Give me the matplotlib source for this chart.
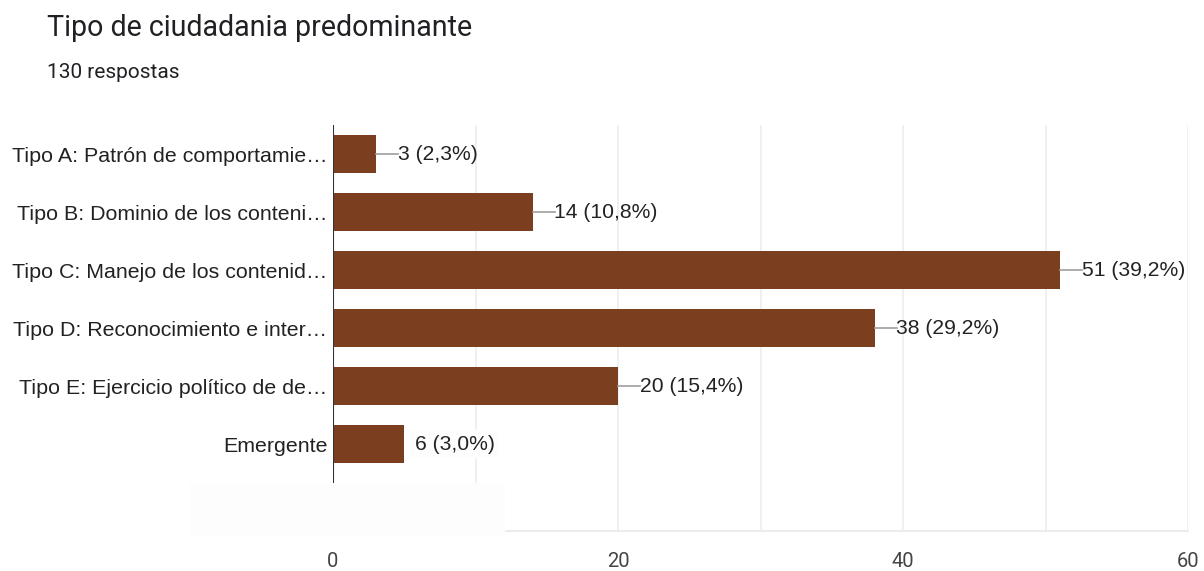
import matplotlib
matplotlib.use("Agg")
import matplotlib.pyplot as plt
from matplotlib.patches import Rectangle

title = "Tipo de ciudadania predominante"
subtitle = "130 respostas"
categories = [
    "Tipo A: Patrón de comportamie…",
    "Tipo B: Dominio de los conteni…",
    "Tipo C: Manejo de los contenid…",
    "Tipo D: Reconocimiento e inter…",
    "Tipo E: Ejercicio político de de…",
    "Emergente",
]
bar_values = [3, 14, 51, 38, 20, 5]      # bar lengths as drawn
label_counts = [3, 14, 51, 38, 20, 6]    # counts as printed
percents = [2.3, 10.8, 39.2, 29.2, 15.4, 3.0]
connector = [True, True, True, True, True, False]
xticks = [0, 20, 40, 60]
minor_xticks = [10, 30, 50]

W, H = 1204, 571
fig = plt.figure(figsize=(W / 100, H / 100), dpi=100)
fig.patch.set_facecolor("white")

left, right, top, bottom = 333, 1188, 125, 531
ax = fig.add_axes([left / W, 1 - bottom / H, (right - left) / W, (bottom - top) / H])
ax.set_facecolor("white")

ypos = list(range(len(categories)))
ax.barh(ypos, bar_values, height=0.655, color="#7b3f1f", zorder=3)
ax.set_xlim(0, 60)
ax.set_ylim(6.5, -0.5)

ax.set_xticks(xticks)
ax.set_xticks(minor_xticks, minor=True)
ax.set_xticklabels([str(t) for t in xticks], fontfamily="Roboto", fontsize=14.5, color="#444444")
ax.tick_params(axis="x", which="both", length=0, pad=15)
ax.set_yticks(ypos)
ax.set_yticklabels(categories, fontfamily="Liberation Sans", fontsize=15.4, color="#222222")
ax.tick_params(axis="y", length=0, pad=4)

for s in ax.spines.values():
    s.set_visible(False)
ax.grid(axis="x", which="both", color="#eeeeee", linewidth=1.2, zorder=0)
ax.axhline(6.5, color="#ececec", linewidth=1.5, zorder=1, clip_on=False)
ax.plot([0, 0], [-0.5, 5.67], color="#333333", linewidth=1.5, zorder=4, solid_capstyle="butt")

px = 60 / (right - left)
for y, v, n, p, c in zip(ypos, bar_values, label_counts, percents, connector):
    lbl = f"{n} ({p:.1f}%)".replace(".", ",")
    if c:
        ax.plot([v, v + 22 * px], [y, y], color="#9e9e9e", linewidth=1.2, zorder=4)
        ax.text(v + 22 * px, y, lbl, va="center", ha="left", fontfamily="Liberation Sans",
                fontsize=15.2, color="#222222", zorder=5)
    else:
        ax.text(v + 11 * px, y, lbl, va="center", ha="left", fontfamily="Liberation Sans",
                fontsize=15.2, color="#222222", zorder=5,
                bbox=dict(facecolor="#fdfdfd", edgecolor="none", pad=3))

fig.patches.append(Rectangle((190 / W, 1 - 535 / H), (505 - 190) / W, (535 - 483) / H,
                             transform=fig.transFigure, facecolor="#fdfdfd", edgecolor="none",
                             zorder=10))

fig.text(47 / W, 1 - 28 / H, title, fontfamily="Roboto", fontsize=20.6, color="#202124",
         ha="left", va="center")
fig.text(47 / W, 1 - 72 / H, subtitle, fontfamily="Roboto", fontsize=15, color="#202124",
         ha="left", va="center")

fig.savefig("out.png", dpi=100, facecolor="white")
